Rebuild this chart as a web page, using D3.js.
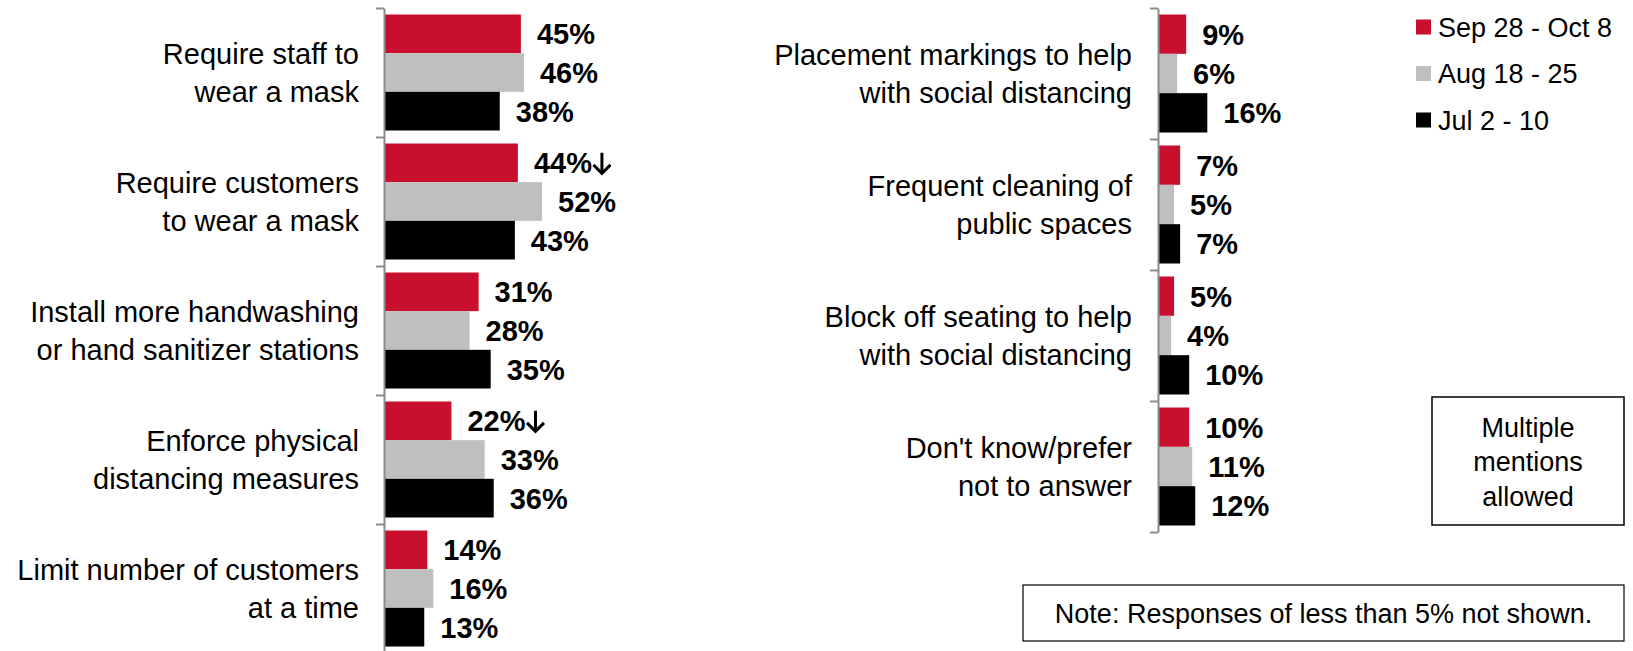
<!DOCTYPE html>
<html>
<head>
<meta charset="utf-8">
<script src="https://cdn.jsdelivr.net/npm/d3@7"></script>
<style>
  html, body { margin: 0; padding: 0; background: #fff; }
  svg { display: block; font-family: "Liberation Sans", Arial, sans-serif; }
</style>
</head>
<body>
<svg id="chart" width="1633" height="651"></svg>
<script>
// Series (survey waves)
const seriesNames = ["Sep 28 - Oct 8", "Aug 18 - 25", "Jul 2 - 10"];
const seriesColors = ["#C8102E", "#BFBFBF", "#000000"];

// Left panel
const leftCategories = [
  ["Require staff to", "wear a mask"],
  ["Require customers", "to wear a mask"],
  ["Install more handwashing", "or hand sanitizer stations"],
  ["Enforce physical", "distancing measures"],
  ["Limit number of customers", "at a time"]
];
const leftSep = [45, 44, 31, 22, 14];
const leftAug = [46, 52, 28, 33, 16];
const leftJul = [38, 43, 35, 36, 13];
const leftSepDown = [false, true, false, true, false];

// Right panel
const rightCategories = [
  ["Placement markings to help", "with social distancing"],
  ["Frequent cleaning of", "public spaces"],
  ["Block off seating to help", "with social distancing"],
  ["Don't know/prefer", "not to answer"]
];
const rightSep = [9, 7, 5, 10];
const rightAug = [6, 5, 4, 11];
const rightJul = [16, 7, 10, 12];
const rightSepDown = [false, false, false, false];

const noteText = "Note: Responses of less than 5% not shown.";
const boxLines = ["Multiple", "mentions", "allowed"];

const svg = d3.select("#chart");
const x = d3.scaleLinear().domain([0, 100]).range([0, 302]);

function panel(cfg) {
  const n = cfg.categories.length;
  const g = svg.append("g").attr("transform", `translate(${cfg.axisX},0)`);
  const idx = cfg.categories.map((c, i) => i);
  const y = d3.scaleBand().domain(idx).range(cfg.yRange).paddingInner(0).paddingOuter(0);
  const ySub = d3.scaleBand().domain([0, 1, 2])
    .range([6.5, y.bandwidth() - 6.5]).paddingInner(0);
  const yEdge = d3.scaleLinear().domain([0, n]).range(cfg.yRange);
  const values = [cfg.sep, cfg.aug, cfg.jul];

  const rows = [];
  idx.forEach(i => values.forEach((arr, s) => rows.push({ i, s, v: arr[i], down: s === 0 && cfg.down[i] })));

  g.selectAll("rect.bar").data(rows).join("rect")
    .attr("class", "bar")
    .attr("x", x(0) + 1)
    .attr("y", d => y(d.i) + ySub(d.s))
    .attr("width", d => x(d.v) - x(0))
    .attr("height", ySub.bandwidth())
    .attr("fill", d => seriesColors[d.s]);

  const lbl = g.selectAll("text.val").data(rows).join("text")
    .attr("class", "val")
    .attr("x", d => x(d.v) + 17)
    .attr("y", d => y(d.i) + ySub(d.s) + ySub.bandwidth() / 2)
    .attr("dy", "0.36em")
    .attr("font-size", 29)
    .attr("font-weight", "bold")
    .attr("fill", "#000")
    .text(d => d.v + "%");

  // downward-change marker drawn after the value text
  lbl.filter(d => d.down).each(function (d) {
    const w = this.getComputedTextLength();
    const ax = x(d.v) + 17 + w + 10;
    const cy = y(d.i) + ySub(d.s) + ySub.bandwidth() / 2;
    const top = cy - 10, bot = cy + 10.5;
    g.append("path")
      .attr("d", `M${ax},${top}V${bot}M${ax - 8.5},${bot - 8.5}L${ax},${bot}L${ax + 8.5},${bot - 8.5}`)
      .attr("fill", "none").attr("stroke", "#000").attr("stroke-width", 3)
      .attr("stroke-linejoin", "miter");
  });

  // category axis: ticks on band edges
  const axis = d3.axisLeft(yEdge).tickValues(d3.range(n + 1)).tickFormat("")
    .tickSize(8).tickSizeOuter(0);
  const ag = g.append("g").call(axis);
  ag.select(".domain").attr("stroke", "#8C8C8C").attr("stroke-width", 2);
  ag.selectAll(".tick line").attr("stroke", "#8C8C8C").attr("stroke-width", 2);

  // category labels
  const cl = svg.append("g").selectAll("text.cat").data(cfg.categories).join("text")
    .attr("class", "cat")
    .attr("text-anchor", "end")
    .attr("font-size", 29)
    .attr("fill", "#000");
  cl.each(function (lines, i) {
    const cy = y(i) + y.bandwidth() / 2;
    const lh = 38.5;
    d3.select(this).selectAll("tspan").data(lines).join("tspan")
      .attr("x", cfg.labelX)
      .attr("y", (d, k) => cy + (k - (lines.length - 1) / 2) * lh)
      .attr("dy", "0.36em")
      .text(d => d);
  });
}

panel({
  categories: leftCategories, sep: leftSep, aug: leftAug, jul: leftJul, down: leftSepDown,
  axisX: 384, yRange: [8, 653], labelX: 359
});
panel({
  categories: rightCategories, sep: rightSep, aug: rightAug, jul: rightJul, down: rightSepDown,
  axisX: 1158, yRange: [8, 532], labelX: 1132
});

// legend
const lg = svg.append("g").attr("transform", "translate(1416,0)");
const legendY = d3.scalePoint().domain(seriesNames).range([27, 120]);
lg.selectAll("rect").data(seriesNames).join("rect")
  .attr("x", 0).attr("y", d => legendY(d) - 7.5)
  .attr("width", 15).attr("height", 15)
  .attr("fill", (d, i) => seriesColors[i]);
lg.selectAll("text").data(seriesNames).join("text")
  .attr("x", 22).attr("y", d => legendY(d)).attr("dy", "0.36em")
  .attr("font-size", 27).attr("fill", "#000")
  .text(d => d);

// "Multiple mentions allowed" box
svg.append("rect").attr("x", 1432).attr("y", 397).attr("width", 192).attr("height", 128)
  .attr("fill", "#fff").attr("stroke", "#000").attr("stroke-width", 1.5);
svg.append("g").selectAll("text").data(boxLines).join("text")
  .attr("x", 1528).attr("y", (d, i) => 427 + i * 34.5).attr("dy", "0.36em")
  .attr("text-anchor", "middle").attr("font-size", 27).attr("fill", "#000")
  .text(d => d);

// note box
svg.append("rect").attr("x", 1023).attr("y", 585).attr("width", 601).attr("height", 56)
  .attr("fill", "#fff").attr("stroke", "#000").attr("stroke-width", 1.2);
svg.append("text").attr("x", 1323.5).attr("y", 613).attr("dy", "0.36em")
  .attr("text-anchor", "middle").attr("font-size", 27).attr("fill", "#000")
  .text(noteText);
</script>
</body>
</html>
